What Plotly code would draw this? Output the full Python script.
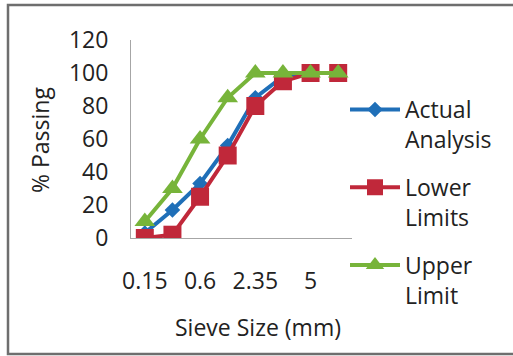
import plotly.graph_objects as go

sieve_sizes = ["0.15", "0.3", "0.6", "1.18", "2.35", "3.35", "5", "10"]
shown_ticks = ["0.15", "0.6", "2.35", "5"]
actual_analysis = [3, 17, 33, 56, 85, 98, 100, 100]
lower_limits = [0, 2, 25, 50, 80, 95, 100, 100]
upper_limit = [10, 30, 60, 85, 100, 100, 100, 100]

W, H = 513, 356
L, R, T, B = 131, 161, 40, 118
pw = W - L - R
ph = H - T - B

def px(x):
    return (x - L) / pw

def py(y):
    return (H - B - y) / ph

font = "Open Sans, Liberation Sans, sans-serif"
txt = "#222222"
fs = 23

fig = go.Figure()
fig.add_trace(go.Scatter(
    x=sieve_sizes, y=actual_analysis, name="Actual<br>Analysis",
    mode="lines+markers", legendgroup="a",
    line=dict(color="#1f6fb8", width=4),
    marker=dict(symbol="diamond", size=12, color="#1f6fb8"),
))
fig.add_trace(go.Scatter(
    x=sieve_sizes, y=lower_limits, name="Lower<br>Limits",
    mode="lines+markers", legendgroup="b",
    line=dict(color="#c0283a", width=4),
    marker=dict(symbol="square", size=18, color="#c0283a"),
))
fig.add_trace(go.Scatter(
    x=sieve_sizes, y=upper_limit, name="Upper<br>Limit",
    mode="lines+markers", legendgroup="c",
    line=dict(color="#77b43a", width=4),
    marker=dict(symbol="triangle-up", size=18, color="#77b43a"),
))

fig.update_layout(
    width=W, height=H,
    margin=dict(l=L, r=R, t=T, b=B),
    paper_bgcolor="white", plot_bgcolor="white",
    font=dict(family=font, size=fs, color=txt),
    showlegend=True,
    legend=dict(
        x=px(345), y=py(88), xanchor="left", yanchor="top",
        font=dict(size=fs, color=txt),
        tracegroupgap=15, itemwidth=50, valign="top",
        maxheight=600,
        bgcolor="rgba(0,0,0,0)",
    ),
    xaxis=dict(
        type="category", categoryorder="array", categoryarray=sieve_sizes,
        range=[-0.5, len(sieve_sizes) - 0.5],
        tickmode="array", tickvals=shown_ticks, ticktext=shown_ticks,
        showgrid=False, zeroline=False,
        showline=True, linecolor="#a6a6a6", linewidth=1,
        ticks="", ticklabelstandoff=22,
        tickfont=dict(size=fs, color=txt),
    ),
    yaxis=dict(
        range=[0, 120], tickvals=[0, 20, 40, 60, 80, 100, 120],
        showgrid=False, zeroline=False,
        showline=True, linecolor="#a6a6a6", linewidth=1,
        ticks="", ticklabelstandoff=17,
        tickfont=dict(size=fs, color=txt),
    ),
    annotations=[
        dict(text="Sieve Size (mm)", x=px(258), y=py(327), xref="paper", yref="paper",
             xanchor="center", yanchor="middle", showarrow=False,
             font=dict(size=fs, color=txt)),
        dict(text="% Passing", x=px(40), y=py(140), xref="paper", yref="paper",
             xanchor="center", yanchor="middle", showarrow=False, textangle=-90,
             font=dict(size=fs, color=txt)),
    ],
    shapes=[
        dict(type="rect", xref="paper", yref="paper",
             x0=px(8), x1=px(530), y0=py(354), y1=py(5),
             line=dict(color="#6e6e6e", width=2.5), fillcolor="rgba(0,0,0,0)",
             layer="below"),
    ],
)

fig.write_html("out.html")
